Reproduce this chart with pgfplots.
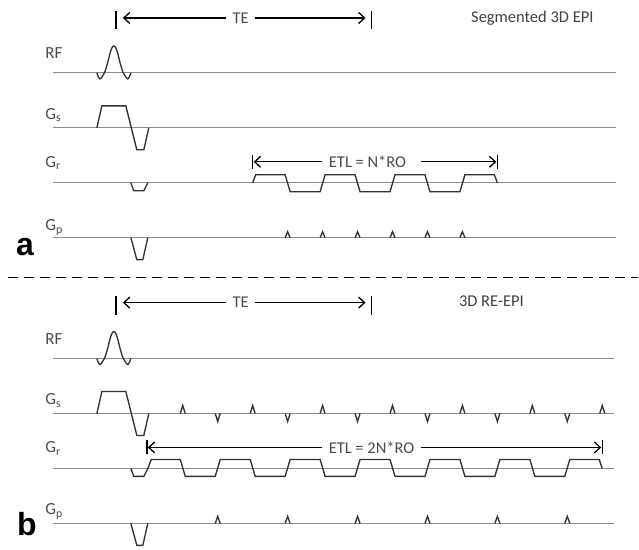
\documentclass[border=0pt]{standalone}
\usepackage{pgfplots}
\pgfplotsset{compat=1.18}
\usepackage{fontspec}
\setmainfont{Carlito}
\newfontfamily\arialfont{Liberation Sans}
\usetikzlibrary{arrows.meta}
\begin{document}
\begin{tikzpicture}[
  lab/.style={anchor=west, text=black!70, font=\fontsize{17}{19}\selectfont},
  txt/.style={text=black!70, font=\fontsize{16.5}{19}\selectfont},
]
\begin{axis}[scale only axis, width=639pt, height=550pt,
  xmin=0, xmax=639, ymin=0, ymax=550, y dir=reverse, hide axis, clip=false,
  base/.style={black!45, line width=1.1pt, no marks},
  wave/.style={black!80, line width=1.35pt, no marks},
  arr/.style={black, line width=1.3pt, no marks, -{Straight Barb[length=6pt,width=11pt,line width=1.3pt]}},
  bar/.style={black, line width=1.5pt, no marks},
]
\addplot[draw=none] coordinates {(0,0) (639,550)};
% ---------------- panel a ----------------
% baselines
\addplot[base] coordinates {(53,73) (617,73)};
\addplot[base] coordinates {(53,128) (617,128)};
\addplot[base] coordinates {(53,183) (617,183)};
\addplot[base] coordinates {(53,238) (617,238)};
% RF
\addplot[wave, smooth] coordinates {(97,73) (98.5,77) (100,79) (101.5,78) (103,75.5) (104.5,73) (106,69) (108,62) (110,54) (112,48) (114,46) (116,48) (118,54) (120,62) (122,69) (123.5,73) (125,75.5) (126.5,78) (128,79) (129.5,77) (131,73)};
% Gs
\addplot[wave] coordinates {(97,128) (102,106) (126,106) (137,150) (144,150) (149,128)};
% Gr
\addplot[wave] coordinates {(131,183) (134,191) (144,191) (148,183)};
\addplot[wave] coordinates {(253,183) (256,175) (285.5,175) (290.5,192) (320.5,192) (325.5,175) (355.5,175) (360.5,192) (390.5,192) (395.5,175) (425.5,175) (430.5,192) (460.5,192) (465.5,175) (495,175) (498,183)};
% Gp
\addplot[wave] coordinates {(131,238) (137,260) (143,260) (148,238)};
\addplot[wave] coordinates {(285.5,238) (288,232) (290.5,238)};
\addplot[wave] coordinates {(320.5,238) (323,232) (325.5,238)};
\addplot[wave] coordinates {(355.5,238) (358,232) (360.5,238)};
\addplot[wave] coordinates {(390.5,238) (393,232) (395.5,238)};
\addplot[wave] coordinates {(425.5,238) (428,232) (430.5,238)};
\addplot[wave] coordinates {(460.5,238) (463,232) (465.5,238)};
% TE
\addplot[bar] coordinates {(116,11) (116,29)};
\addplot[bar] coordinates {(372,11) (372,29)};
\addplot[arr] coordinates {(226,18) (123,18)};
\addplot[arr] coordinates {(255,18) (366,18)};
\node[txt] at (axis cs:241,18) {TE};
% ETL
\addplot[bar] coordinates {(253,155) (253,169)};
\addplot[bar] coordinates {(498,155) (498,169)};
\addplot[arr] coordinates {(322,162) (254,162)};
\addplot[arr] coordinates {(422,162) (497,162)};
\node[txt] at (axis cs:368,162) {ETL = N*RO};
\node[text=black!75, font=\fontsize{16.5}{19}\selectfont] at (axis cs:533,18) {Segmented 3D EPI};
% labels
\node[lab] at (axis cs:42,53) {RF};
\node[lab] at (axis cs:42,115) {G\textsubscript{s}};
\node[lab] at (axis cs:42,163) {G\textsubscript{r}};
\node[lab] at (axis cs:42,228) {G\textsubscript{p}};
\node[font=\arialfont\bfseries\fontsize{32}{36}\selectfont] at (axis cs:25,247) {a};
% dashed separator
\addplot[black, line width=1.6pt, no marks, dash pattern=on 10pt off 6pt] coordinates {(8,278) (639,278)};
% ---------------- panel b ----------------
\addplot[base] coordinates {(53,359) (615,359)};
\addplot[base] coordinates {(53,414) (615,414)};
\addplot[base] coordinates {(53,469) (615,469)};
\addplot[base] coordinates {(53,524) (615,524)};
% RF
\addplot[wave, smooth] coordinates {(97,359) (98.5,363) (100,365) (101.5,364) (103,361.5) (104.5,359) (106,355) (108,348) (110,340) (112,334) (114,332) (116,334) (118,340) (120,348) (122,355) (123.5,359) (125,361.5) (126.5,364) (128,365) (129.5,363) (131,359)};
% Gs
\addplot[wave] coordinates {(97,414) (102,392) (126,392) (137,436) (144,436) (149,414)};
\addplot[wave] coordinates {(180.5,414) (183,406) (185.5,414)};
\addplot[wave] coordinates {(250.5,414) (253,406) (255.5,414)};
\addplot[wave] coordinates {(320.5,414) (323,406) (325.5,414)};
\addplot[wave] coordinates {(390.5,414) (393,406) (395.5,414)};
\addplot[wave] coordinates {(460.5,414) (463,406) (465.5,414)};
\addplot[wave] coordinates {(530.5,414) (533,406) (535.5,414)};
\addplot[wave] coordinates {(600.5,414) (603,406) (605.5,414)};
\addplot[wave] coordinates {(215.5,414) (218,422) (220.5,414)};
\addplot[wave] coordinates {(285.5,414) (288,422) (290.5,414)};
\addplot[wave] coordinates {(355.5,414) (358,422) (360.5,414)};
\addplot[wave] coordinates {(425.5,414) (428,422) (430.5,414)};
\addplot[wave] coordinates {(495.5,414) (498,422) (500.5,414)};
\addplot[wave] coordinates {(565.5,414) (568,422) (570.5,414)};
% Gr
\addplot[wave] coordinates {(131,469) (134,477) (144,477) (148,469) (151.5,460) (180.5,460) (185.5,477) (215.5,477) (220.5,460) (250.5,460) (255.5,477) (285.5,477) (290.5,460) (320.5,460) (325.5,477) (355.5,477) (360.5,460) (390.5,460) (395.5,477) (425.5,477) (430.5,460) (460.5,460) (465.5,477) (495.5,477) (500.5,460) (530.5,460) (535.5,477) (565.5,477) (570.5,460) (600,460) (603,469)};
% Gp
\addplot[wave] coordinates {(131,524) (137,546) (143,546) (148,524)};
\addplot[wave] coordinates {(215.5,524) (218,517) (220.5,524)};
\addplot[wave] coordinates {(285.5,524) (288,517) (290.5,524)};
\addplot[wave] coordinates {(355.5,524) (358,517) (360.5,524)};
\addplot[wave] coordinates {(425.5,524) (428,517) (430.5,524)};
\addplot[wave] coordinates {(495.5,524) (498,517) (500.5,524)};
\addplot[wave] coordinates {(565.5,524) (568,517) (570.5,524)};
% TE
\addplot[bar] coordinates {(116,296) (116,315)};
\addplot[bar] coordinates {(372,296) (372,315)};
\addplot[arr] coordinates {(226,303) (123,303)};
\addplot[arr] coordinates {(255,303) (366,303)};
\node[txt] at (axis cs:241,303) {TE};
% ETL
\addplot[bar] coordinates {(147,441) (147,455)};
\addplot[bar] coordinates {(603,441) (603,455)};
\addplot[arr] coordinates {(322,448) (148,448)};
\addplot[arr] coordinates {(422,448) (602,448)};
\node[txt] at (axis cs:372,448) {ETL = 2N*RO};
\node[text=black!75, font=\fontsize{16.5}{19}\selectfont] at (axis cs:492,302) {3D RE-EPI};
% labels
\node[lab] at (axis cs:42,339) {RF};
\node[lab] at (axis cs:42,401) {G\textsubscript{s}};
\node[lab] at (axis cs:42,449) {G\textsubscript{r}};
\node[lab] at (axis cs:42,512) {G\textsubscript{p}};
\node[font=\arialfont\bfseries\fontsize{32}{36}\selectfont] at (axis cs:27,525) {b};
\end{axis}
\end{tikzpicture}
\end{document}
